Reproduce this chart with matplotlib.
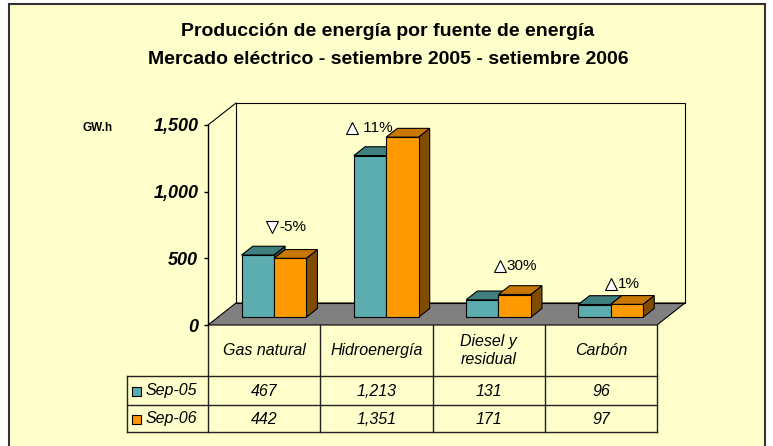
import matplotlib
matplotlib.use('Agg')
import matplotlib.pyplot as plt
from matplotlib.patches import Polygon, Rectangle
from matplotlib.transforms import blended_transform_factory

# datos
categories = ['Gas natural', 'Hidroenergía', 'Diesel y\nresidual', 'Carbón']
series_names = ['Sep-05', 'Sep-06']
sep05 = [467, 1213, 131, 96]
sep06 = [442, 1351, 171, 97]
yticks = [0, 500, 1000, 1500]
ytick_labels = ['0', '500', '1,000', '1,500']

# colores (frente, tapa, lado)
teal = ('#5BADB0', '#3F7F80', '#2C5C5D')
orange = ('#FF9900', '#C87800', '#7F4C00')

plt.rcParams['font.family'] = ['Liberation Sans', 'DejaVu Sans']

W, H = 773, 446
fig = plt.figure(figsize=(W / 100, H / 100), dpi=100)
fig.patch.set_facecolor('white')
fig.add_artist(Rectangle((9 / W, -0.02), 756 / W, 1.02 - 4 / H, transform=fig.transFigure,
                         facecolor='#FFFFCC', edgecolor='#333333', lw=1.5, zorder=0))

# ejes: x en categorías, y en GW.h
ax = fig.add_axes([208 / W, 1 - 325 / H, 449 / W, 200 / H])
ax.set_xlim(-0.5, 3.5)
ax.set_ylim(0, 1500)
ax.patch.set_visible(False)
for s in ['top', 'right', 'bottom']:
    ax.spines[s].set_visible(False)
ax.spines['left'].set_color('black')
ax.spines['left'].set_linewidth(1)
ax.set_xticks([])
ax.set_yticks(yticks, ytick_labels)
ax.tick_params(axis='y', direction='out', length=3, width=1, pad=4, labelsize=13)
for lab in ax.get_yticklabels():
    lab.set_fontweight('bold')
    lab.set_fontstyle('italic')

# profundidad del efecto 3D
dx = 28 / 112.25
dy = 22 * 7.5

# piso
ax.add_patch(Polygon([(-0.5, 0), (3.5, 0), (3.5 + dx, dy), (-0.5 + dx, dy)],
                     closed=True, facecolor='#808080', edgecolor='black', lw=0.8,
                     clip_on=False, zorder=1))
# pared de fondo y pared izquierda
ax.add_patch(Rectangle((-0.5 + dx, dy), 4, 1500, facecolor='none', edgecolor='black',
                       lw=0.8, clip_on=False, zorder=1))
ax.plot([-0.5, -0.5 + dx], [1500, 1500 + dy], color='black', lw=0.8, clip_on=False, zorder=1)

# barras 3D
w = 0.288
z0, z1 = 0.35, 0.75
ddx, ddy = (z1 - z0) * dx, (z1 - z0) * dy
for i in range(len(categories)):
    for j, (vals, cols) in enumerate([(sep05, teal), (sep06, orange)]):
        v = vals[i]
        x0 = i - w + j * w + z0 * dx
        y0 = z0 * dy
        front = Rectangle((x0, y0), w, v, facecolor=cols[0], edgecolor='black', lw=0.8,
                          clip_on=False, zorder=3 + 2 * i + j)
        top = Polygon([(x0, y0 + v), (x0 + w, y0 + v), (x0 + w + ddx, y0 + v + ddy),
                       (x0 + ddx, y0 + v + ddy)], closed=True, facecolor=cols[1],
                      edgecolor='black', lw=0.8, clip_on=False, zorder=3 + 2 * i + j)
        side = Polygon([(x0 + w, y0), (x0 + w + ddx, y0 + ddy), (x0 + w + ddx, y0 + v + ddy),
                        (x0 + w, y0 + v)], closed=True, facecolor=cols[2],
                       edgecolor='black', lw=0.8, clip_on=False, zorder=3 + 2 * i + j)
        ax.add_patch(side)
        ax.add_patch(top)
        ax.add_patch(front)

# variaciones porcentuales
pct_dx = [0.07, -0.22, 0.10, 0.09]
pct_y = [737, 1477, 445, 307]
for i in range(len(categories)):
    change = (sep06[i] - sep05[i]) / sep05[i] * 100
    mk = '^' if change >= 0 else 'v'
    txt = '%d%%' % int(change)
    if i == 1:
        txt = ' ' + txt
    ax.plot(i + pct_dx[i], pct_y[i], marker=mk, ms=8.5, mfc='white', mec='black', mew=0.8,
            clip_on=False, zorder=20)
    ax.annotate(txt, (i + pct_dx[i], pct_y[i]), xytext=(5, 0), textcoords='offset points',
                ha='left', va='center', fontsize=11, zorder=20)

# tabla de datos
tr = blended_transform_factory(ax.transData, ax.transAxes)


def fy(py):
    return (325 - py) / 200


hb, r1, r2 = fy(376), fy(405), fy(432)
x_leg = (127 - 208) / 112.25 - 0.5
lc = '#222222'
for xb in [-0.5, 0.5, 1.5, 2.5, 3.5]:
    ax.plot([xb, xb], [0, r2], color=lc, lw=1, transform=tr, clip_on=False)
ax.plot([x_leg, x_leg], [hb, r2], color=lc, lw=1, transform=tr, clip_on=False)
for yb in [hb, r1, r2]:
    ax.plot([x_leg, 3.5], [yb, yb], color=lc, lw=1, transform=tr, clip_on=False)

for i, c in enumerate(categories):
    ax.text(i, fy(350.5), c, transform=tr, ha='center', va='center', fontsize=11.5,
            style='italic', linespacing=1.25)
    ax.text(i, fy(391), format(sep05[i], ','), transform=tr, ha='center', va='center',
            fontsize=11.5, style='italic')
    ax.text(i, fy(419), format(sep06[i], ','), transform=tr, ha='center', va='center',
            fontsize=11.5, style='italic')

key_x = (132 - 208) / 112.25 - 0.5
txt_x = (146 - 208) / 112.25 - 0.5
for name, cols, py in [(series_names[0], teal, 391), (series_names[1], orange, 419)]:
    ax.add_patch(Rectangle((key_x, fy(py + 4.5)), 9 / 112.25, 9 / 200, transform=tr,
                           facecolor=cols[0], edgecolor='black', lw=0.8, clip_on=False))
    ax.text(txt_x, fy(py), name, transform=tr, ha='left', va='center', fontsize=11.5,
            style='italic')

# títulos
fig.text(388 / W, 1 - 32 / H, 'Producción de energía por fuente de energía', ha='center',
         va='center', fontsize=14, fontweight='bold')
fig.text(388 / W, 1 - 59 / H, 'Mercado eléctrico - setiembre 2005 - setiembre 2006',
         ha='center', va='center', fontsize=14, fontweight='bold')
fig.text(98 / W, 1 - 128 / H, 'GW.h', ha='center', va='center', fontsize=8.5,
         fontweight='bold')

fig.savefig('out.png', dpi=100)
